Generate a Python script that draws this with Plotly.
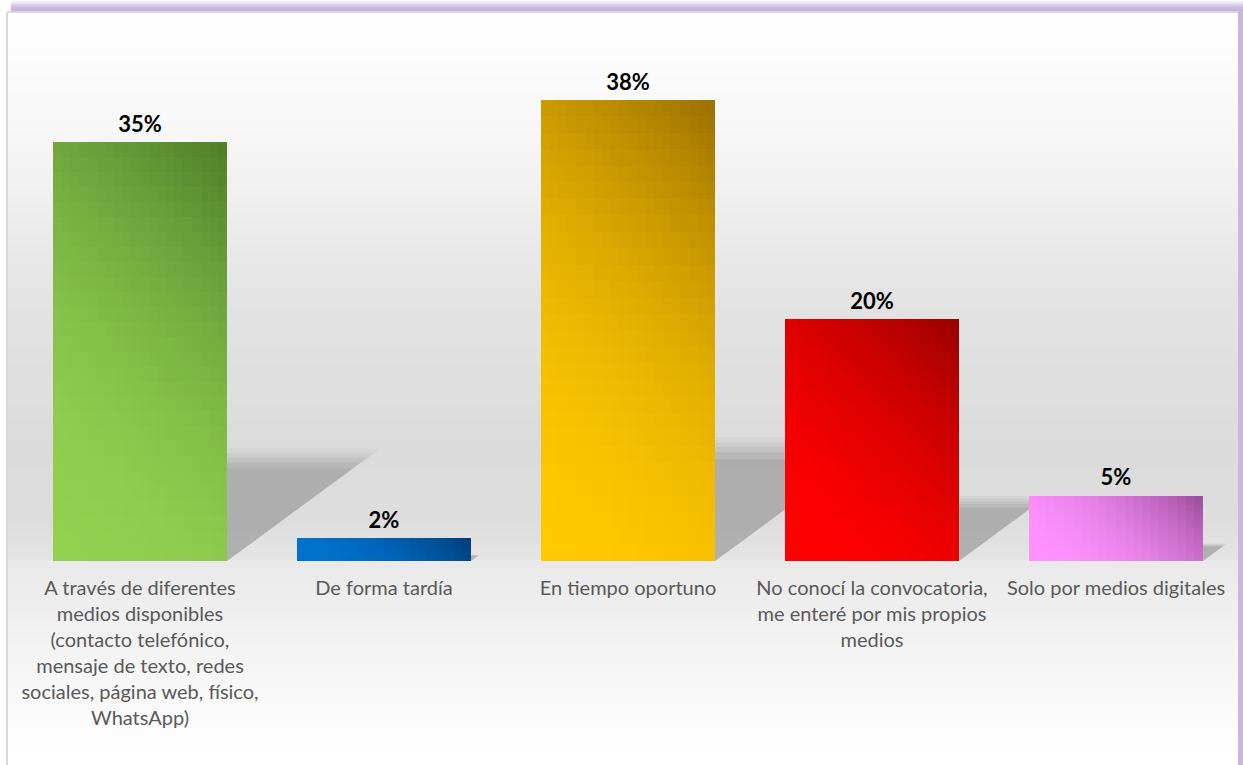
import plotly.graph_objects as go

# ---------------- data ----------------
categories = [
    "A través de diferentes<br>medios disponibles<br>(contacto telefónico,<br>mensaje de texto, redes<br>sociales, página web, físico,<br>WhatsApp)",
    "De forma tardía",
    "En tiempo oportuno",
    "No conocí la convocatoria,<br>me enteré por mis propios<br>medios",
    "Solo por medios digitales",
]
values = [34.6, 1.9, 38.1, 20.0, 5.4]
# gradient colours (light bottom-left -> dark top-right)
light_colors = ["#92d050", "#0072cc", "#ffc800", "#ff0000", "#ff92ff"]
dark_colors = ["#4e7d28", "#003c78", "#9a7000", "#980000", "#9a4c9a"]

# ---------------- layout constants ----------------
W, H = 1243, 765
ML, MR, MT, MB = 18, 5, 77, 204
PW, PH = W - ML - MR, H - MT - MB
YMAX = 40.0
BAR_W = 0.713
NX, NY = 20, 28
SHADOW_H = 0.24      # shadow height relative to bar height
SHADOW_SLOPE = 1.36  # horizontal px per vertical px of the shadow

px_per_unit = PH / YMAX
px_per_cat = PW / len(categories)
xs = list(range(len(categories)))


def hex2rgb(h):
    h = h.lstrip("#")
    return tuple(int(h[i:i + 2], 16) for i in (0, 2, 4))


def mix(c0, c1, t):
    a, b = hex2rgb(c0), hex2rgb(c1)
    return "rgb(%d,%d,%d)" % tuple(round(a[i] + (b[i] - a[i]) * t) for i in range(3))


def px2x(px):
    return (px - ML) / PW


def py2y(py):
    return (MT + PH - py) / PH


fig = go.Figure()

# ---------------- bars as gradient cells ----------------
bar_px_w = BAR_W * px_per_cat
for j in range(NY):
    for k in range(NX):
        cols = []
        for i, v in enumerate(values):
            hpx = v * px_per_unit
            xf, yf = (k + 0.5) / NX, (j + 0.5) / NY
            t = (xf * bar_px_w + yf * hpx) / (bar_px_w + hpx)
            cols.append(mix(light_colors[i], dark_colors[i], t ** 2))
        fig.add_trace(go.Bar(
            x=xs,
            y=[v / NY for v in values],
            base=[v * j / NY for v in values],
            width=BAR_W / NX,
            offset=-BAR_W / 2 + k * BAR_W / NX,
            marker=dict(color=cols, line=dict(width=0)),
            hoverinfo="skip",
            showlegend=False,
        ))

# ---------------- value labels ----------------
fig.add_trace(go.Scatter(
    x=xs, y=values, mode="markers+text",
    marker=dict(size=6, opacity=0),
    text=[f"{v:.0f}%" for v in values],
    textposition="top center",
    textfont=dict(family="Lato", size=22, color="#000000", weight="bold"),
    hoverinfo="skip", showlegend=False, cliponaxis=False,
))

shapes = []
# ---------------- background gradient ----------------
stops = [(12, 255), (140, 246), (300, 227), (450, 219), (520, 221), (558, 228),
         (562, 233), (650, 243), (740, 254), (765, 255)]


def grey_at(py):
    for (a, ga), (b, gb) in zip(stops, stops[1:]):
        if a <= py <= b:
            return ga + (gb - ga) * (py - a) / (b - a)
    return 255


py = 12
step = 4
while py < 765:
    g = round(grey_at(py + step / 2))
    shapes.append(dict(type="rect", xref="paper", yref="paper", layer="below",
                       x0=px2x(7), x1=px2x(1238), y0=py2y(py), y1=py2y(min(py + step, 765)),
                       line=dict(width=0), fillcolor=f"rgb({g},{g},{g})"))
    py += step

# ---------------- shadows (below bars) ----------------
for i, v in enumerate(values):
    right = i + BAR_W / 2
    hh = v * SHADOW_H
    ext = SHADOW_SLOPE * hh * px_per_unit / px_per_cat
    for scale, alpha in [(1.12, 0.06), (1.07, 0.08), (1.03, 0.10), (0.98, 0.12), (0.92, 0.14)]:
        path = (f"M {right},0 L {right},{hh * scale} "
                f"L {right + ext * scale},{hh * scale} Z")
        shapes.append(dict(type="path", xref="x", yref="y", layer="below", path=path,
                           fillcolor=f"rgba(110,110,110,{alpha})", line=dict(width=0)))

# ---------------- frame ----------------
shapes.append(dict(type="line", xref="paper", yref="paper", x0=px2x(7), x1=px2x(7),
                   y0=py2y(12), y1=py2y(765), line=dict(color="#d9d9d9", width=2)))
shapes.append(dict(type="line", xref="paper", yref="paper", x0=px2x(7), x1=px2x(1238),
                   y0=py2y(12), y1=py2y(12), line=dict(color="#d9d9d9", width=2)))
for y0, col in [(1, "#f4eff8"), (3, "#e4d8ee"), (5, "#d6c5e5"), (7, "#cdb9df"), (9, "#c8b1dc")]:
    shapes.append(dict(type="rect", xref="paper", yref="paper", layer="above",
                       x0=px2x(11), x1=px2x(1243), y0=py2y(y0), y1=py2y(y0 + 2),
                       line=dict(width=0), fillcolor=col))
shapes.append(dict(type="rect", xref="paper", yref="paper", layer="above",
                   x0=px2x(1238), x1=px2x(1243), y0=py2y(11), y1=py2y(765),
                   line=dict(width=0), fillcolor="#cdb6de"))

fig.update_layout(
    width=W, height=H,
    margin=dict(l=ML, r=MR, t=MT, b=MB, pad=0),
    paper_bgcolor="#ffffff", plot_bgcolor="rgba(0,0,0,0)",
    barmode="overlay", bargap=0,
    showlegend=False,
    shapes=shapes,
    xaxis=dict(
        range=[-0.5, len(categories) - 0.5],
        tickmode="array", tickvals=xs, ticktext=categories,
        showgrid=False, zeroline=False, showline=False, ticks="",
        tickfont=dict(family="Lato", size=20, color="#595959"),
        ticklabelstandoff=13,
        tickangle=0, automargin=False, fixedrange=True,
    ),
    yaxis=dict(range=[0, YMAX], visible=False, showgrid=False, zeroline=False,
               automargin=False, fixedrange=True),
)

fig.write_html("out.html", config={"displayModeBar": False},
               post_script="document.body.style.margin='0px';")
